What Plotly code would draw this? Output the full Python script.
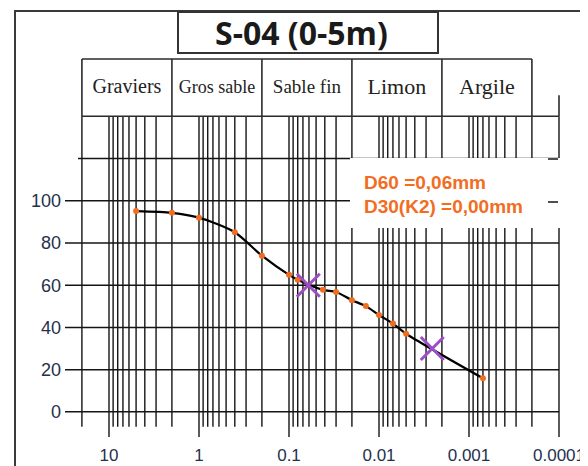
import math
import plotly.graph_objects as go

# ---------------- data ----------------
sizes_mm = [5, 2, 1, 0.4, 0.2, 0.1, 0.08, 0.042, 0.03, 0.02, 0.014, 0.01, 0.007, 0.005, 0.0007]
passing_pct = [95.1, 94.3, 92.0, 85.1, 74.0, 64.9, 62.6, 57.8, 56.8, 52.9, 50.1, 45.9, 41.8, 37.0, 15.9]

d_sizes = [0.061, 0.00256]   # D60, D30
d_pct = [60, 30]

x_tick_vals = [10, 1, 0.1, 0.01, 0.001, 0.0001]
x_tick_text = ["10", "1", "0.1", "0.01", "0.001", "0.0001"]
y_tick_vals = [0, 20, 40, 60, 80, 100]
y_top_line = 120

class_names = ["Graviers", "Gros sable", "Sable fin", "Limon", "Argile"]
class_bounds = [20, 2, 0.2, 0.02, 0.002, 0.0002]
class_font_sizes = [20, 18, 19, 22, 22]

title_text = "S-04 (0-5m)"
note_lines = ["D60 =0,06mm", "D30(K2) =0,00mm"]

grid_multipliers = [2, 3, 4, 5, 6, 7, 8, 9]
grid_decades = [10, 1, 0.1, 0.01, 0.001, 0.0001]

# ---------------- geometry ----------------
OFF = 8                      # page body margin
W, H = 580, 458
ML, MR, MT, MB = 57, 26, 49, 26
PW = W - ML - MR
PH = H - MT - MB
X_RANGE = [1.48889, -4.03333]
Y_RANGE = [-13.33, 168.1]


def pxx(x):
    """screen pixel x -> paper fraction"""
    return (x - OFF - ML) / PW


def pxy(y):
    """screen pixel y -> paper fraction"""
    return 1 - (y - OFF - MT) / PH


GRID_C = "#151515"
LABEL_C = "#26304e"
ORANGE = "#f26d1f"
PURPLE = "#9b4fc4"

x_left_val = 10 ** X_RANGE[0]
band_top = 140          # bottom of header boxes
box_top = 167.14        # top of header boxes
minor_bottom = -7.1
major_bottom = -11.9

fig = go.Figure()

# vertical grid lines
gx, gy = [], []
all_lines = [20]
for dec in grid_decades:
    all_lines.append(dec)
    if dec > 0.0001:
        for m in reversed(grid_multipliers):
            all_lines.append(m * dec / 10)
for v in all_lines:
    is_major = any(abs(math.log10(v) - math.log10(d)) < 1e-9 for d in grid_decades)
    gx += [v, v, None]
    gy += [major_bottom if is_major else minor_bottom, band_top, None]
fig.add_trace(go.Scatter(x=gx, y=gy, mode="lines", line=dict(color=GRID_C, width=1.4),
                         hoverinfo="skip", showlegend=False))

# horizontal grid lines
hx, hy = [], []
for yv in y_tick_vals:
    hx += [x_left_val, 0.0001, None]
    hy += [yv, yv, None]
hx += [22.1, 0.0001, None]
hy += [y_top_line, y_top_line, None]
fig.add_trace(go.Scatter(x=hx, y=hy, mode="lines", line=dict(color=GRID_C, width=1.5),
                         hoverinfo="skip", showlegend=False))

# header class boxes
bx, by = [], []
for b in class_bounds:
    bx += [b, b, None]
    by += [band_top, box_top, None]
bx += [class_bounds[0], class_bounds[-1], None, class_bounds[0], 0.0001, None, 0.0001, 0.0001, None]
by += [box_top, box_top, None, band_top, band_top, None, band_top, 150, None]
fig.add_trace(go.Scatter(x=bx, y=by, mode="lines", line=dict(color="#2a2a2a", width=1.6),
                         hoverinfo="skip", showlegend=False))

cx = [math.sqrt(class_bounds[i] * class_bounds[i + 1]) for i in range(len(class_names))]
fig.add_trace(go.Scatter(x=cx, y=[153.3] * len(cx), mode="text", text=class_names,
                         textposition="middle center",
                         textfont=dict(family="Liberation Serif", size=class_font_sizes, color="#222222"),
                         hoverinfo="skip", showlegend=False))

# grading curve
fig.add_trace(go.Scatter(x=sizes_mm, y=passing_pct, mode="lines+markers",
                         line=dict(color="#000000", width=2.2, shape="spline", smoothing=0.7),
                         marker=dict(color=ORANGE, size=6),
                         hoverinfo="skip", showlegend=False))

# D60 / D30 markers
fig.add_trace(go.Scatter(x=d_sizes, y=d_pct, mode="markers",
                         marker=dict(symbol="x-thin", size=23, line=dict(color=PURPLE, width=3)),
                         hoverinfo="skip", showlegend=False))

shapes = [
    # outer frame
    dict(type="rect", xref="paper", yref="paper", x0=pxx(15), x1=pxx(586), y0=pxy(480), y1=pxy(11),
         line=dict(color="#3a3a3a", width=2), layer="below"),
    # title box
    dict(type="rect", xref="paper", yref="paper", x0=pxx(178), x1=pxx(438), y0=pxy(53), y1=pxy(12),
         line=dict(color="#333333", width=2), fillcolor="white", layer="above"),
    # white note box
    dict(type="rect", xref="paper", yref="paper", x0=pxx(350), x1=pxx(561), y0=pxy(228), y1=pxy(158),
         line=dict(width=0), fillcolor="white", layer="above"),
    # small stubs on the right
    dict(type="line", xref="paper", yref="paper", x0=pxx(548), x1=pxx(558), y0=pxy(159), y1=pxy(159),
         line=dict(color=GRID_C, width=1.5), layer="above"),
    dict(type="line", xref="paper", yref="paper", x0=pxx(548), x1=pxx(558), y0=pxy(202), y1=pxy(202),
         line=dict(color=GRID_C, width=1.5), layer="above"),
]

annotations = [
    dict(text="<b>%s</b>" % title_text, xref="paper", yref="paper", x=pxx(301), y=pxy(33),
         xanchor="center", yanchor="middle", showarrow=False,
         font=dict(family="Open Sans", size=32, color="#1a1a1a")),
    dict(text="<b>%s</b>" % note_lines[0], xref="paper", yref="paper", x=pxx(362), y=pxy(182),
         xanchor="left", yanchor="middle", showarrow=False,
         font=dict(family="Liberation Sans", size=19, color=ORANGE)),
    dict(text="<b>%s</b>" % note_lines[1], xref="paper", yref="paper", x=pxx(362), y=pxy(207),
         xanchor="left", yanchor="middle", showarrow=False,
         font=dict(family="Liberation Sans", size=19, color=ORANGE)),
]

fig.update_layout(
    width=W, height=H,
    margin=dict(l=ML, r=MR, t=MT, b=MB, pad=0, autoexpand=False),
    paper_bgcolor="white", plot_bgcolor="white",
    shapes=shapes, annotations=annotations,
    xaxis=dict(type="log", range=X_RANGE, showgrid=False, zeroline=False, showline=False,
               tickmode="array", tickvals=x_tick_vals, ticktext=x_tick_text, ticks="",
               ticklabelstandoff=3, automargin=False,
               tickfont=dict(family="Liberation Sans", size=17, color=LABEL_C)),
    yaxis=dict(range=Y_RANGE, showgrid=False, zeroline=False, showline=False,
               tickmode="array", tickvals=y_tick_vals, ticks="", ticklabelstandoff=3,
               automargin=False,
               tickfont=dict(family="Liberation Sans", size=18, color=LABEL_C)),
)

fig.write_html("out.html")
